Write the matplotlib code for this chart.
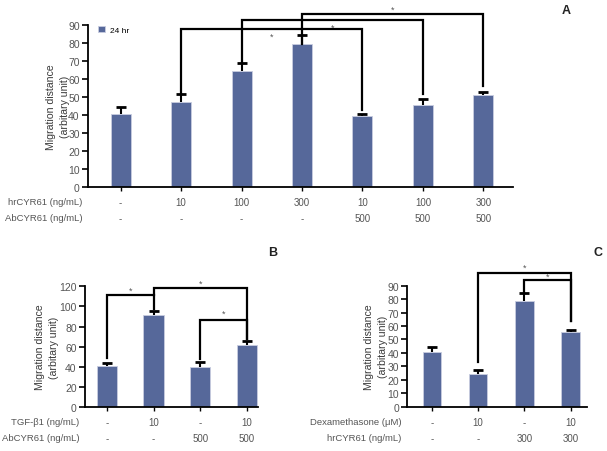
import matplotlib
matplotlib.use("Agg")
import matplotlib.pyplot as plt

plt.rcParams['font.family'] = ['Liberation Sans', 'DejaVu Sans']

BAR = '#56689a'
TXT = '#3a3a3a'

# panel A
a_vals = [40.3, 47.3, 64.5, 79.3, 39.4, 45.7, 51.2]
a_tops = [44.5, 51.9, 68.9, 84.6, 40.3, 49.0, 53.0]
a_hr = ['-', '10', '100', '300', '10', '100', '300']
a_ab = ['-', '-', '-', '-', '500', '500', '500']
# (left bar, right bar, bracket height, left end, right end, star height)
a_brackets = [(1, 4, 88, 51.9, 43, 84),
              (2, 5, 93, 68.9, 51.5, 88.6),
              (3, 6, 96, 79.3, 56, 98.6)]

# panel B
b_vals = [40.5, 91.5, 39.5, 62.0]
b_tops = [43.7, 95.7, 45.0, 65.6]
b_tgf = ['-', '10', '-', '10']
b_ab = ['-', '-', '500', '500']
b_brackets = [(0, 1, 111, 48.4, 97.5, 116),
              (1, 3, 118, 111, 67.6, 123),
              (2, 3, 86.5, 47.7, 67.6, 93.5)]

# panel C
c_vals = [40.9, 24.0, 78.8, 55.5]
c_tops = [44.4, 27.3, 84.3, 57.3]
c_dex = ['-', '10', '-', '10']
c_hr = ['-', '-', '300', '300']
c_brackets = [(1, 3, 99.4, 33, 64, 104),
              (2, 3, 94.2, 84.3, 64, 96.8)]

fig = plt.figure(figsize=(6.07, 4.52), dpi=100)


def panel(rect, vals, tops, width, xlim, ylim, ystep, rows, brackets, lab_x):
    ax = fig.add_axes(rect)
    x = list(range(len(vals)))
    ax.bar(x, vals, width=width, color=BAR, edgecolor='#c8cde0', linewidth=0.6,
           zorder=2, label='24 hr')
    ax.vlines(x, vals, tops, color='black', lw=1.5, zorder=3)
    ax.plot(x, tops, '_', color='black', ms=6.5, mew=2, zorder=3)
    ax.set_xlim(*xlim)
    ax.set_ylim(0, ylim)
    ax.set_yticks(range(0, ylim + 1, ystep))
    for s in ['top', 'right']:
        ax.spines[s].set_visible(False)
    for s in ['left', 'bottom']:
        ax.spines[s].set_linewidth(1.3)
    ax.tick_params(axis='y', labelsize=7.5, length=4, width=1.2, pad=2,
                   colors='black', labelcolor='#555555')
    ax.tick_params(axis='x', length=3, width=1, colors='black')
    ax.set_xticks(x)
    ax.set_xticklabels([])
    ax.set_ylabel('Migration distance\n(arbitary unit)', fontsize=7.6, color=TXT,
                  linespacing=1.5)
    ax.yaxis.set_label_coords(lab_x, 0.5)
    trans = ax.get_xaxis_transform()
    for k, (title, labels) in enumerate(rows):
        dy = -15 - 16 * k
        ax.annotate(title, xy=(0, 0), xycoords='axes fraction',
                    xytext=(-4, dy * 0.72), textcoords='offset points',
                    ha='right', va='center', fontsize=6.8, color='#555555')
        for xi, t in zip(x, labels):
            ax.annotate(t, xy=(xi, 0), xycoords=trans,
                        xytext=(0, dy * 0.72), textcoords='offset points',
                        ha='center', va='center', fontsize=7, color='#555555')
    for i, j, h, lo_i, lo_j, sy in brackets:
        ax.plot([i, i, j, j], [lo_i, h, h, lo_j], color='black', lw=1.6,
                clip_on=False, zorder=4, solid_joinstyle='miter')
        ax.text((i + j) / 2, sy, '*', ha='center', va='center', fontsize=6.5,
                color='#555555')
    return ax


axA = panel([88 / 607, 1 - 188 / 452, 425 / 607, 162 / 452], a_vals, a_tops, 0.33,
            (-0.54, 6.49), 90, 10,
            [('hrCYR61 (ng/mL)', a_hr), ('AbCYR61 (ng/mL)', a_ab)], a_brackets, -0.043)
axA.legend(loc='upper left', bbox_to_anchor=(0.01, 1.03), frameon=False, fontsize=6,
           handlelength=0.8, handleheight=0.8, handletextpad=0.6, borderpad=0.2)

axB = panel([85 / 607, 1 - 408 / 452, 173 / 607, 120.7 / 452], b_vals, b_tops, 0.44,
            (-0.47, 3.24), 120, 20,
            [('TGF-β1 (ng/mL)', b_tgf), ('AbCYR61 (ng/mL)', b_ab)], b_brackets, -0.15)

axC = panel([407.3 / 607, 1 - 407.7 / 452, 179.4 / 607, 121 / 452], c_vals, c_tops, 0.40,
            (-0.535, 3.35), 90, 10,
            [('Dexamethasone (μM)', c_dex), ('hrCYR61 (ng/mL)', c_hr)], c_brackets, -0.11)

for lbl, px, py in [('A', 566, 11), ('B', 273, 253), ('C', 597.7, 253)]:
    fig.text(px / 607, 1 - py / 452, lbl, ha='center', va='center', fontsize=9,
             fontweight='bold', color='#222222')

fig.savefig('out.png', dpi=100)
